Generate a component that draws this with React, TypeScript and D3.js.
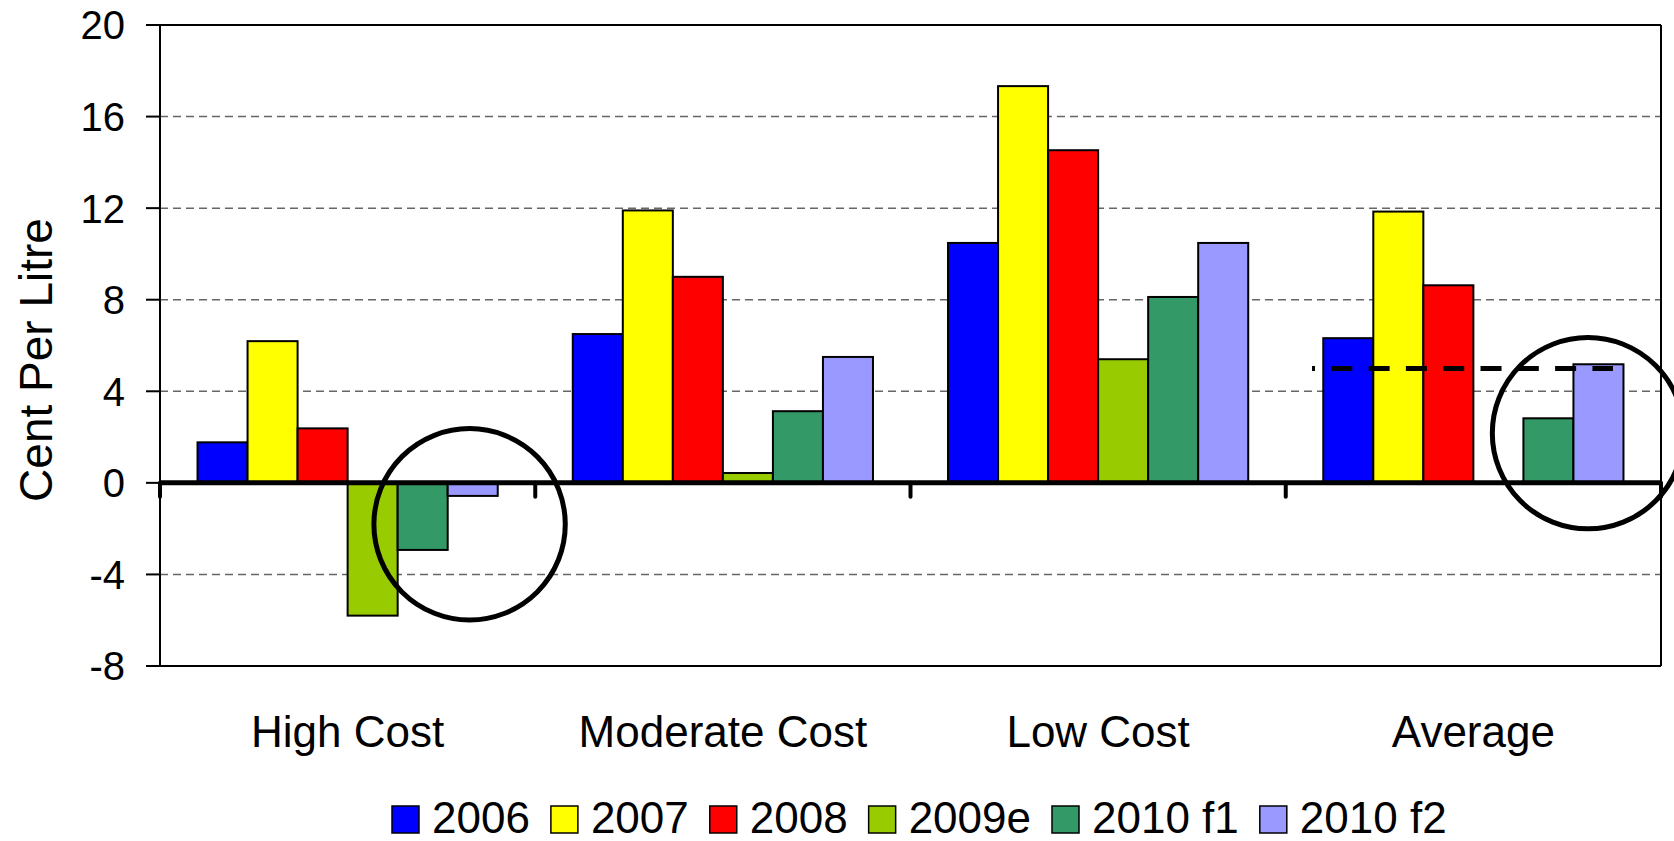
import React from "react";
import * as d3 from "d3";

const categories = ["High Cost", "Moderate Cost", "Low Cost", "Average"];
const seriesNames = ["2006", "2007", "2008", "2009e", "2010 f1", "2010 f2"];
const seriesColors = ["#0000FF", "#FFFF00", "#FF0000", "#99CC00", "#339966", "#9999FF"];
const v2006 = [1.77, 6.5, 10.48, 6.32];
const v2007 = [6.19, 11.9, 17.33, 11.85];
const v2008 = [2.38, 9.0, 14.53, 8.63];
const v2009e: (number | null)[] = [-5.8, 0.43, 5.4, null];
const v2010f1 = [-2.93, 3.13, 8.12, 2.82];
const v2010f2 = [-0.57, 5.5, 10.48, 5.18];
const seriesValues = [v2006, v2007, v2008, v2009e, v2010f1, v2010f2];
const yTicks = [-8, -4, 0, 4, 8, 12, 16, 20];
const gridTicks = [-4, 4, 8, 12, 16];
const targetLevel = 5;
const annotations = [
  { category: "High Cost", offset: 0.825, value: -1.81, radius: 4.18 },
  { category: "Average", offset: 0.8055, value: 2.17, radius: 4.18 },
];

const W = 1674;
const H = 841;
const left = 160;
const right = 1661;
const top = 25;
const bottom = 666;
const FONT = "'Liberation Sans', Arial, sans-serif";

function textWidth(s: string, font: string) {
  const c = document.createElement("canvas").getContext("2d");
  if (!c) return s.length * 24;
  c.font = font;
  return c.measureText(s).width;
}

export default function App() {
  const x0 = d3.scaleBand<string>().domain(categories).range([left, right]).padding(0);
  const bw = x0.bandwidth();
  const x1 = d3.scaleBand<string>().domain(seriesNames).range([bw * 0.1, bw * 0.9]).padding(0);
  const y = d3.scaleLinear().domain([-8, 20]).range([bottom, top]);
  const y0 = y(0);

  const bars: React.ReactNode[] = [];
  seriesNames.forEach((s, si) => {
    categories.forEach((c, ci) => {
      const v = seriesValues[si][ci];
      if (v === null || v === undefined) return;
      const xs = (x0(c) as number) + (x1(s) as number);
      const yTop = Math.min(y(v), y0);
      const h = Math.abs(y(v) - y0);
      bars.push(
        <rect key={s + c} x={xs} y={yTop} width={x1.bandwidth()} height={h}
          fill={seriesColors[si]} stroke="#000" strokeWidth={2} />
      );
    });
  });

  const LF = 44;
  let lx = 392;
  const legendItems = seriesNames.map((s, i) => {
    const tw = textWidth(s, `${LF}px 'Liberation Sans'`);
    const g = (
      <g key={s}>
        <rect x={lx} y={806} width={27} height={27} fill={seriesColors[i]} stroke="#000" strokeWidth={1.5} />
        <text x={lx + 40} y={833} fontSize={LF} fontFamily={FONT}>{s}</text>
      </g>
    );
    lx += 40 + tw + 21;
    return g;
  });

  const avgX = x0("Average") as number;

  return (
    <svg width={W} height={H} style={{ position: "absolute", left: 0, top: 0, background: "#fff" }}
      xmlns="http://www.w3.org/2000/svg">
      <rect x={0} y={0} width={W} height={H} fill="#fff" />
      {gridTicks.map((t) => (
        <line key={t} x1={left} x2={right} y1={y(t)} y2={y(t)} stroke="#666" strokeWidth={1.5} strokeDasharray="8 5" />
      ))}
      <line x1={left} x2={right} y1={top} y2={top} stroke="#000" strokeWidth={2} />
      <line x1={right} x2={right} y1={top} y2={bottom} stroke="#000" strokeWidth={2} />
      <line x1={left} x2={right} y1={bottom} y2={bottom} stroke="#000" strokeWidth={2} />
      <line x1={left} x2={left} y1={top} y2={bottom} stroke="#000" strokeWidth={2} />
      {yTicks.map((t) => (
        <g key={t}>
          <line x1={left - 14} x2={left} y1={y(t)} y2={y(t)} stroke="#000" strokeWidth={2} />
          <text x={125} y={y(t)} dy="0.36em" textAnchor="end" fontSize={40} fontFamily={FONT}>{t}</text>
        </g>
      ))}
      {bars}
      <line x1={left} x2={right} y1={y0} y2={y0} stroke="#000" strokeWidth={5} />
      {[...categories.map((c) => x0(c) as number), right].map((xv, i) => (
        <line key={i} x1={xv} x2={xv} y1={y0} y2={y0 + 14} stroke="#000" strokeWidth={4} strokeLinecap="round" />
      ))}
      {categories.map((c) => (
        <text key={c} x={(x0(c) as number) + bw / 2} y={747} textAnchor="middle" fontSize={44} fontFamily={FONT}>{c}</text>
      ))}
      <line x1={avgX + bw * 0.07} x2={avgX + bw * 0.872} y1={y(targetLevel)} y2={y(targetLevel)}
        stroke="#000" strokeWidth={5} strokeDasharray="21 16.3" strokeDashoffset={18} />
      {annotations.map((a, i) => (
        <circle key={i} cx={(x0(a.category) as number) + bw * a.offset} cy={y(a.value)}
          r={y0 - y(a.radius)} fill="none" stroke="#000" strokeWidth={5} />
      ))}
      <text transform={`translate(52, 360) rotate(-90)`} textAnchor="middle"
        fontSize={46} fontFamily={FONT}>Cent Per Litre</text>
      {legendItems}
    </svg>
  );
}
